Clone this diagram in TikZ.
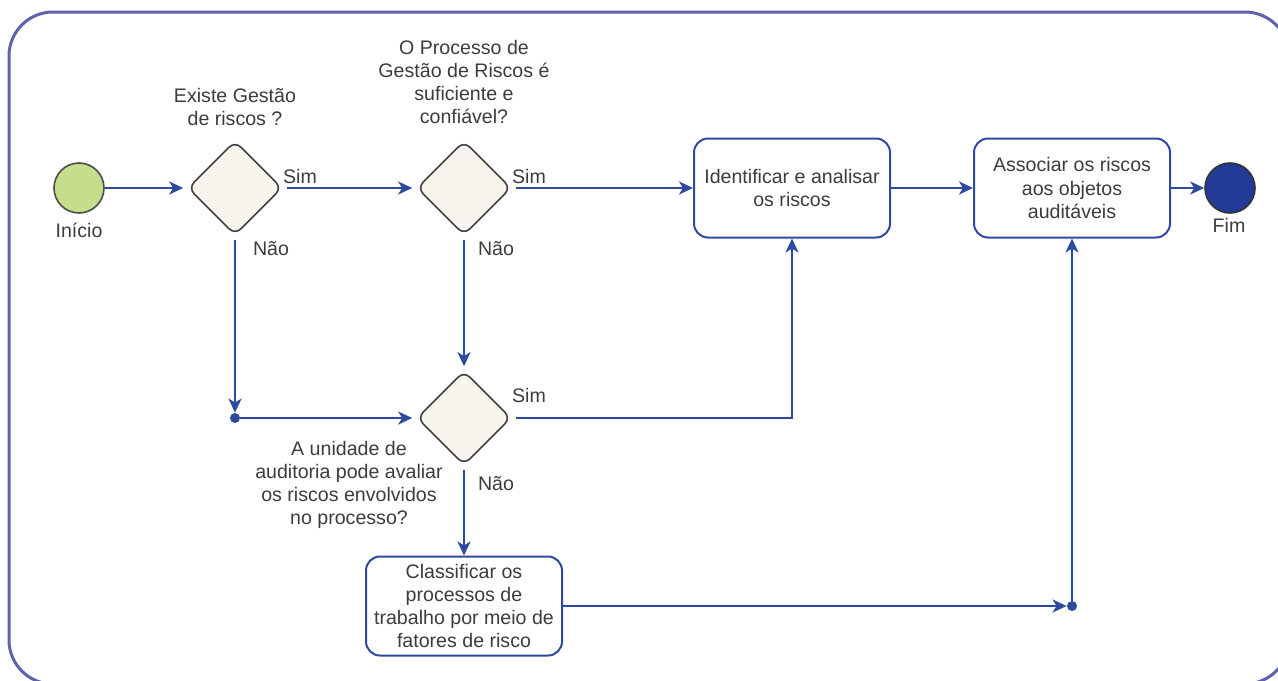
\documentclass[tikz,border=0pt]{standalone}
\usepackage{fontspec}
\setmainfont{Liberation Sans}
\usetikzlibrary{arrows.meta, shapes.geometric}

\definecolor{linkblue}{RGB}{44,74,158}
\definecolor{framecol}{RGB}{94,98,172}
\definecolor{txtgray}{RGB}{60,60,60}
\definecolor{gatefill}{RGB}{247,245,238}
\definecolor{startgreen}{RGB}{198,221,140}
\definecolor{endblue}{RGB}{32,58,150}

\tikzset{
    gate/.style={diamond, draw=black!75, fill=gatefill, line width=0.8pt, minimum width=47pt, minimum height=47pt, inner sep=0pt, rounded corners=4pt},
    task/.style={rectangle, draw=linkblue, line width=1pt, rounded corners=7pt, minimum width=98pt, minimum height=49.5pt, align=center, text=txtgray},
    lbl/.style={text=txtgray, align=center, inner sep=0pt},
    link/.style={draw=linkblue, line width=1.3pt, -{Stealth[length=7pt, width=6.5pt, inset=2pt]}},
    joint/.style={circle, fill=linkblue, inner sep=0pt, minimum size=5pt},
}

\begin{document}
\begin{tikzpicture}[x=0.5pt, y=-0.5pt, every node/.append style={font=\fontsize{9.8}{11.6}\selectfont}]
    \useasboundingbox (0,0) rectangle (1278,680);
    \draw [framecol, line width=1.5pt, rounded corners=22pt] (9,12) rectangle (1289,684);

    \node [circle, draw=black!70, fill=startgreen, line width=0.8pt, minimum size=25pt, inner sep=0pt] (inicio) at (79,188) {};
    \node [circle, draw=black!80, fill=endblue, line width=0.8pt, minimum size=25pt, inner sep=0pt] (fim) at (1230,188) {};
    \node [lbl] (inicioTxt) at (79,230) {Início};
    \node [lbl] (fimTxt) at (1229,225) {Fim};

    \node [gate] (q1) at (235,188) {};
    \node [gate] (q2) at (464,188) {};
    \node [gate] (q3) at (464,418) {};
    \node [lbl] (q1Txt) at (235,107) {Existe Gestão\\de riscos ?};
    \node [lbl] (q2Txt) at (464,82) {O Processo de\\Gestão de Riscos é\\suficiente e\\confiável?};
    \node [lbl] (q3Txt) at (349,485) {A unidade de\\auditoria pode avaliar\\os riscos envolvidos\\no processo?};

    \node [task] (ident) at (792,188) {Identificar e analisar\\os riscos};
    \node [task] (assoc) at (1072,188) {Associar os riscos\\aos objetos\\auditáveis};
    \node [task] (classif) at (464,606) {Classificar os\\processos de\\trabalho por meio de\\fatores de risco};

    \node [joint] (j1) at (235,418) {};
    \node [joint] (j2) at (1072,606) {};

    \node [lbl] (sim1) at (300,176) {Sim};
    \node [lbl] (sim2) at (529,176) {Sim};
    \node [lbl] (sim3) at (529,395) {Sim};
    \node [lbl] (nao1) at (271,249) {Não};
    \node [lbl] (nao2) at (496,249) {Não};
    \node [lbl] (nao3) at (496,484) {Não};

    \draw [link, shorten >=2pt] (inicio) -- (q1);
    \draw [link, shorten <=2pt, shorten >=2pt] (q1) -- (q2);
    \draw [link, shorten <=2pt] (q1) -- (j1);
    \draw [link, shorten >=2pt] (j1) -- (q3);
    \draw [link, shorten <=2pt, shorten >=2pt] (q2) -- (q3);
    \draw [link, shorten <=2pt] (q2) -- (ident);
    \draw [link, shorten <=2pt] (q3.east) -| (ident.south);
    \draw [link, shorten <=2pt] (q3) -- (classif);
    \draw [link] (classif.east) -- (j2);
    \draw [link] (j2) -- (assoc.south);
    \draw [link] (ident) -- (assoc);
    \draw [link] (assoc) -- (fim);
\end{tikzpicture}
\end{document}
